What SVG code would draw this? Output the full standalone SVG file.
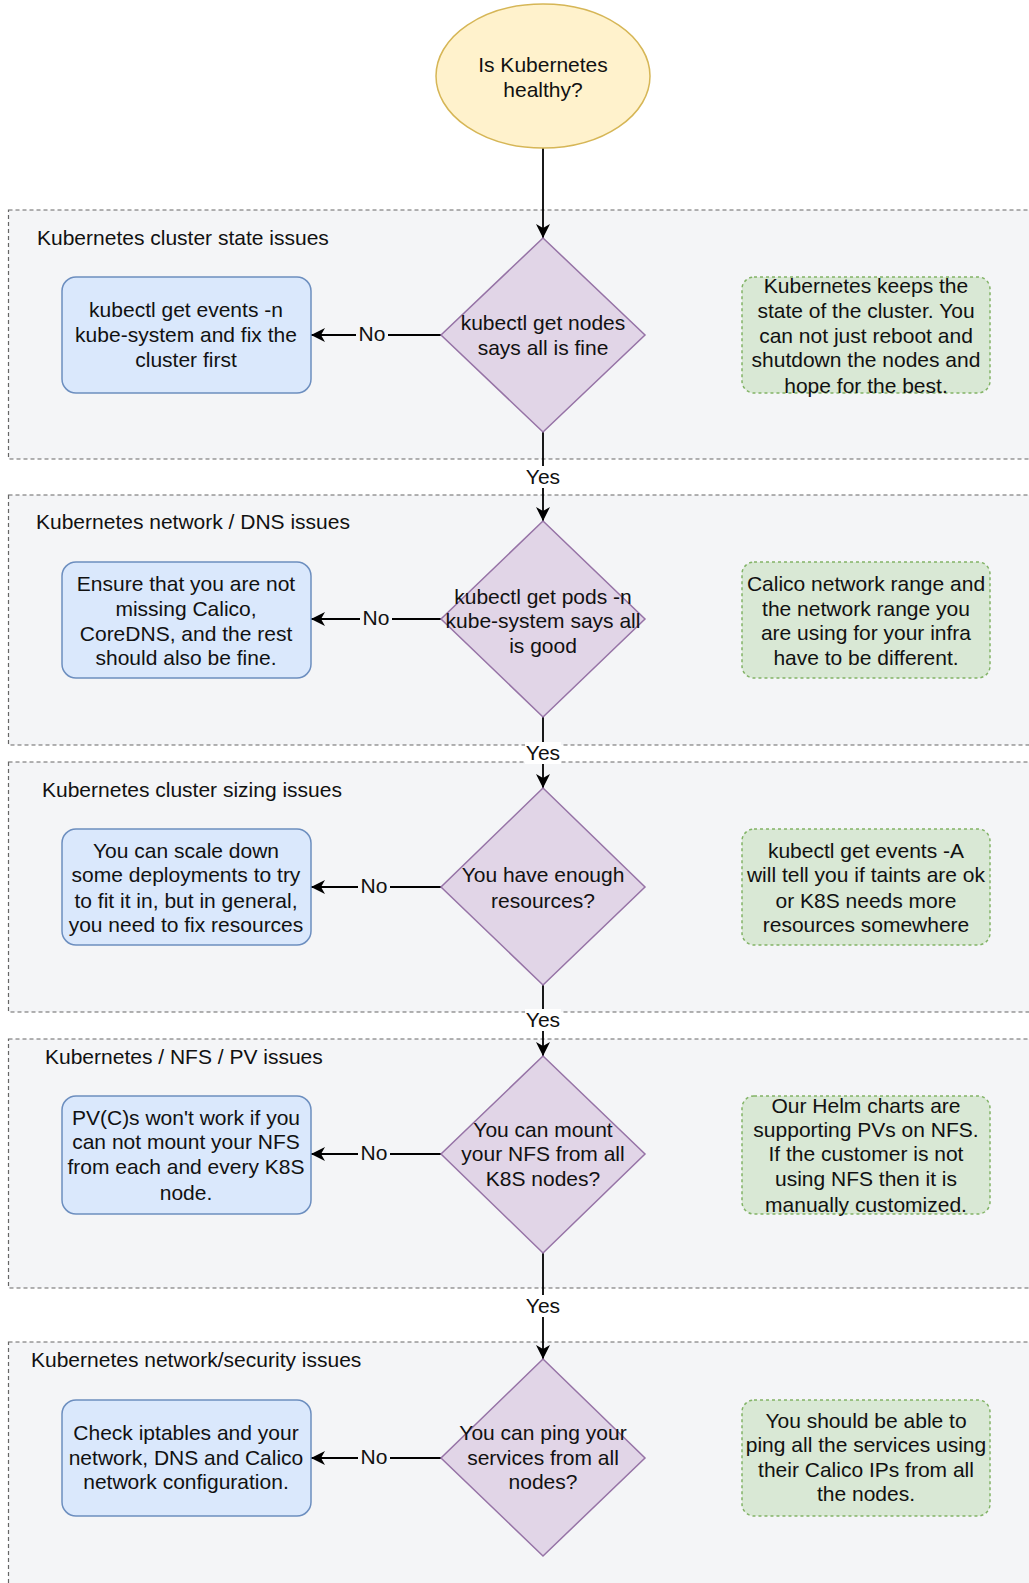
<svg xmlns="http://www.w3.org/2000/svg" width="1029" height="1583" viewBox="0 0 1029 1583">
<style>
  text { font-family: "Liberation Sans", Arial, sans-serif; font-size: 21px; fill: #111111; text-anchor: middle; }
  .sec rect.bg { fill: #f4f5f7; stroke: #666666; stroke-width: 1.2; stroke-dasharray: 4 3; }
  .sec text { text-anchor: start; }
  .start { fill: #fff2cc; stroke: #d6b656; stroke-width: 1.5; }
  .dec { fill: #e1d5e7; stroke: #9673a6; stroke-width: 1.5; }
  .act { fill: #dae8fc; stroke: #6c8ebf; stroke-width: 1.5; }
  .note { fill: #d9e8d5; stroke: #82b366; stroke-width: 1.5; stroke-dasharray: 3 3; }
  .edge { stroke: #000; stroke-width: 1.8; fill: none; marker-end: url(#arr); }
  .lblbg { fill: #ffffff; }
  .lblbg2 { fill: #f4f5f7; }
</style>
<defs>
  <marker id="arr" markerUnits="userSpaceOnUse" markerWidth="16" markerHeight="14" refX="14" refY="7" orient="auto">
    <path d="M0,0 L14,7 L0,14 L4,7 Z" fill="#000"/>
  </marker>
</defs>
<rect x="0" y="0" width="1029" height="1583" fill="#ffffff"/>

<g id="sections" class="sec">
  <g id="sec1"><rect class="bg" x="8.5" y="210" width="1040" height="249"/><text x="37" y="245">Kubernetes cluster state issues</text></g>
  <g id="sec2"><rect class="bg" x="8.5" y="495" width="1040" height="250"/><text x="36" y="529">Kubernetes network / DNS issues</text></g>
  <g id="sec3"><rect class="bg" x="8.5" y="762" width="1040" height="250"/><text x="42" y="797">Kubernetes cluster sizing issues</text></g>
  <g id="sec4"><rect class="bg" x="8.5" y="1039" width="1040" height="249"/><text x="45" y="1064">Kubernetes / NFS / PV issues</text></g>
  <g id="sec5"><rect class="bg" x="8.5" y="1342" width="1040" height="260"/><text x="31" y="1367">Kubernetes network/security issues</text></g>
</g>

<g id="connectors">
  <line class="edge" x1="543" y1="148" x2="543" y2="238"/>
  <line class="edge" x1="543" y1="432" x2="543" y2="521"/>
  <line class="edge" x1="543" y1="717" x2="543" y2="788"/>
  <line class="edge" x1="543" y1="985" x2="543" y2="1056"/>
  <line class="edge" x1="543" y1="1253" x2="543" y2="1359"/>
  <line class="edge" x1="441" y1="335" x2="311" y2="335"/>
  <line class="edge" x1="441" y1="619" x2="311" y2="619"/>
  <line class="edge" x1="441" y1="887" x2="311" y2="887"/>
  <line class="edge" x1="441" y1="1154" x2="311" y2="1154"/>
  <line class="edge" x1="441" y1="1458" x2="311" y2="1458"/>
  <g id="yes-labels">
    <rect class="lblbg" x="525" y="466" width="36" height="22"/><text x="543" y="484" font-size="18">Yes</text>
    <rect class="lblbg" x="525" y="742" width="36" height="22"/><text x="543" y="760" font-size="18">Yes</text>
    <rect class="lblbg" x="525" y="1009" width="36" height="22"/><text x="543" y="1027" font-size="18">Yes</text>
    <rect class="lblbg" x="525" y="1295" width="36" height="22"/><text x="543" y="1313" font-size="18">Yes</text>
  </g>
  <g id="no-labels">
    <rect class="lblbg2" x="356" y="324" width="32" height="22"/><text x="372" y="341" font-size="18">No</text>
    <rect class="lblbg2" x="360" y="608" width="32" height="22"/><text x="376" y="625" font-size="18">No</text>
    <rect class="lblbg2" x="358" y="876" width="32" height="22"/><text x="374" y="893" font-size="18">No</text>
    <rect class="lblbg2" x="358" y="1143" width="32" height="22"/><text x="374" y="1160" font-size="18">No</text>
    <rect class="lblbg2" x="358" y="1447" width="32" height="22"/><text x="374" y="1464" font-size="18">No</text>
  </g>
</g>

<g id="start">
  <ellipse class="start" cx="543" cy="76" rx="107" ry="72"/>
  <text x="543" y="72">Is Kubernetes</text>
  <text x="543" y="97">healthy?</text>
</g>

<g id="d1">
  <polygon class="dec" points="543,238 645,335 543,432 441,335"/>
  <text x="543" y="330">kubectl get nodes</text>
  <text x="543" y="355">says all is fine</text>
</g>
<g id="b1">
  <rect class="act" x="62" y="277" width="249" height="116" rx="14"/>
  <text x="186" y="317">kubectl get events -n</text>
  <text x="186" y="342">kube-system and fix the</text>
  <text x="186" y="367">cluster first</text>
</g>
<g id="g1">
  <rect class="note" x="742" y="277" width="248" height="116" rx="12"/>
  <text x="866" y="293">Kubernetes keeps the</text>
  <text x="866" y="318">state of the cluster. You</text>
  <text x="866" y="343">can not just reboot and</text>
  <text x="866" y="367">shutdown the nodes and</text>
  <text x="866" y="393">hope for the best.</text>
</g>

<g id="d2">
  <polygon class="dec" points="543,521 645,619 543,717 441,619"/>
  <text x="543" y="604">kubectl get pods -n</text>
  <text x="543" y="628">kube-system says all</text>
  <text x="543" y="653">is good</text>
</g>
<g id="b2">
  <rect class="act" x="62" y="562" width="249" height="116" rx="14"/>
  <text x="186" y="591">Ensure that you are not</text>
  <text x="186" y="616">missing Calico,</text>
  <text x="186" y="641">CoreDNS, and the rest</text>
  <text x="186" y="665">should also be fine.</text>
</g>
<g id="g2">
  <rect class="note" x="742" y="562" width="248" height="116" rx="12"/>
  <text x="866" y="591">Calico network range and</text>
  <text x="866" y="616">the network range you</text>
  <text x="866" y="640">are using for your infra</text>
  <text x="866" y="665">have to be different.</text>
</g>

<g id="d3">
  <polygon class="dec" points="543,788 645,887 543,985 441,887"/>
  <text x="543" y="882">You have enough</text>
  <text x="543" y="908">resources?</text>
</g>
<g id="b3">
  <rect class="act" x="62" y="829" width="249" height="116" rx="14"/>
  <text x="186" y="858">You can scale down</text>
  <text x="186" y="882">some deployments to try</text>
  <text x="186" y="908">to fit it in, but in general,</text>
  <text x="186" y="932">you need to fix resources</text>
</g>
<g id="g3">
  <rect class="note" x="742" y="829" width="248" height="116" rx="12"/>
  <text x="866" y="858">kubectl get events -A</text>
  <text x="866" y="882">will tell you if taints are ok</text>
  <text x="866" y="908">or K8S needs more</text>
  <text x="866" y="932">resources somewhere</text>
</g>

<g id="d4">
  <polygon class="dec" points="543,1056 645,1154 543,1253 441,1154"/>
  <text x="543" y="1137">You can mount</text>
  <text x="543" y="1161">your NFS from all</text>
  <text x="543" y="1186">K8S nodes?</text>
</g>
<g id="b4">
  <rect class="act" x="62" y="1096" width="249" height="118" rx="14"/>
  <text x="186" y="1125">PV(C)s won't work if you</text>
  <text x="186" y="1149">can not mount your NFS</text>
  <text x="186" y="1174">from each and every K8S</text>
  <text x="186" y="1200">node.</text>
</g>
<g id="g4">
  <rect class="note" x="742" y="1096" width="248" height="118" rx="12"/>
  <text x="866" y="1113">Our Helm charts are</text>
  <text x="866" y="1137">supporting PVs on NFS.</text>
  <text x="866" y="1161">If the customer is not</text>
  <text x="866" y="1186">using NFS then it is</text>
  <text x="866" y="1212">manually customized.</text>
</g>

<g id="d5">
  <polygon class="dec" points="543,1359 645,1458 543,1556 441,1458"/>
  <text x="543" y="1440">You can ping your</text>
  <text x="543" y="1465">services from all</text>
  <text x="543" y="1489">nodes?</text>
</g>
<g id="b5">
  <rect class="act" x="62" y="1400" width="249" height="116" rx="14"/>
  <text x="186" y="1440">Check iptables and your</text>
  <text x="186" y="1465">network, DNS and Calico</text>
  <text x="186" y="1489">network configuration.</text>
</g>
<g id="g5">
  <rect class="note" x="742" y="1400" width="248" height="116" rx="12"/>
  <text x="866" y="1428">You should be able to</text>
  <text x="866" y="1452">ping all the services using</text>
  <text x="866" y="1477">their Calico IPs from all</text>
  <text x="866" y="1501">the nodes.</text>
</g>
</svg>
